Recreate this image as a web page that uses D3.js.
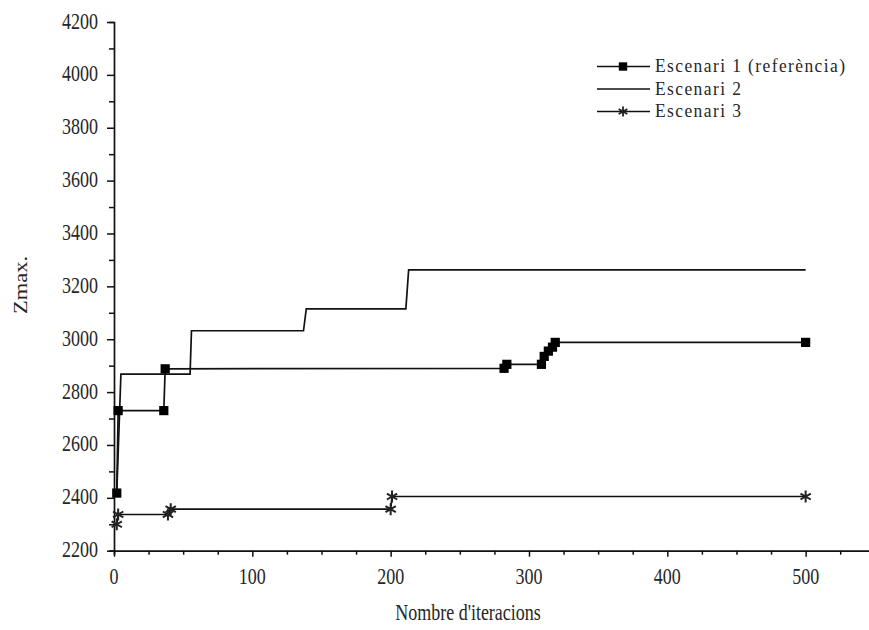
<!DOCTYPE html>
<html>
<head>
<meta charset="utf-8">
<script src="https://cdn.jsdelivr.net/npm/d3@7"></script>
<style>
  html, body { margin: 0; padding: 0; background: #fff; }
  svg { display: block; }
  text { font-family: "Liberation Serif", "Times New Roman", serif; fill: #262626; }
</style>
</head>
<body>
<svg id="chart" width="869" height="630"></svg>
<script>
// Convergence of Zmax over the iterations for three scenarios
const xTickValues = [0, 100, 200, 300, 400, 500];
const yTickValues = [2200, 2400, 2600, 2800, 3000, 3200, 3400, 3600, 3800, 4000, 4200];

const seriesNames = ["Escenari 1 (referència)", "Escenari 2", "Escenari 3"];

const esc1Iter = [2, 3, 36, 37, 282, 284, 309, 311, 314, 317, 319, 500];
const esc1Z    = [2418, 2730, 2730, 2888, 2890, 2905, 2905, 2935, 2955, 2970, 2988, 2988];

const esc2Iter = [2, 5, 55, 56, 137, 139, 211, 213, 500];
const esc2Z    = [2418, 2868, 2868, 3032, 3032, 3115, 3115, 3262, 3262];

const esc3Iter = [2, 3, 39, 41, 200, 201, 500];
const esc3Z    = [2300, 2337, 2337, 2357, 2357, 2405, 2405];

const svg = d3.select("#chart");
const x = d3.scaleLinear().domain([0, 550]).range([114, 874.8]);
const y = d3.scaleLinear().domain([2200, 4200]).range([550.7, 22]);

const STRETCH = 1.25; // text is drawn slightly tall

// Axes
const xAxis = d3.axisBottom(x).tickValues(d3.range(0, 551, 25)).tickSize(4).tickFormat("");
const yAxis = d3.axisLeft(y).tickValues(d3.range(2200, 4201, 100)).tickSize(5).tickFormat("");

const gx = svg.append("g").attr("transform", `translate(0,${y(2200)})`).call(xAxis);
const gy = svg.append("g").attr("transform", `translate(${x(0)},0)`).call(yAxis);
[gx, gy].forEach(g => {
  g.select(".domain").attr("stroke", "#111").attr("stroke-width", 1.7);
  g.selectAll(".tick line").attr("stroke", "#111").attr("stroke-width", 1.5);
});
gx.selectAll(".tick").filter(d => d % 100 === 0).select("line").attr("y2", 6);
gy.selectAll(".tick").filter(d => d % 200 === 0).select("line").attr("x2", -7);

// Tick labels
svg.append("g").selectAll("text").data(xTickValues).join("text")
  .attr("transform", d => `translate(${x(d)},584) scale(1,${STRETCH})`)
  .attr("text-anchor", "middle")
  .attr("font-size", 18)
  .text(d => d);

svg.append("g").selectAll("text").data(yTickValues).join("text")
  .attr("transform", d => `translate(98,${y(d) + 6.5}) scale(1,${STRETCH})`)
  .attr("text-anchor", "end")
  .attr("font-size", 18)
  .text(d => d);

// Axis titles
svg.append("text")
  .attr("transform", `translate(468,620) scale(1,${STRETCH})`)
  .attr("text-anchor", "middle")
  .attr("font-size", 18)
  .text("Nombre d'iteracions");

svg.append("text")
  .attr("transform", `translate(27,285) scale(1,${STRETCH}) rotate(-90)`)
  .attr("text-anchor", "middle")
  .attr("font-size", 18)
  .text("Zmax.");

// Series
const line = d3.line().x(d => x(d[0])).y(d => y(d[1]));
const zip = (a, b) => a.map((v, i) => [v, b[i]]);
const s1 = zip(esc1Iter, esc1Z);
const s2 = zip(esc2Iter, esc2Z);
const s3 = zip(esc3Iter, esc3Z);

[s2, s3, s1].forEach(s => {
  svg.append("path").datum(s).attr("d", line)
    .attr("fill", "none").attr("stroke", "#111").attr("stroke-width", 1.7);
});

const square = d3.symbol(d3.symbolSquare, 85);
const star = d3.symbol(d3.symbolAsterisk, 100);

svg.append("g").selectAll("path").data(s1).join("path")
  .attr("d", square)
  .attr("transform", d => `translate(${x(d[0])},${y(d[1])})`)
  .attr("fill", "#000");

svg.append("g").selectAll("path").data(s3).join("path")
  .attr("d", star)
  .attr("transform", d => `translate(${x(d[0])},${y(d[1])})`)
  .attr("fill", "none").attr("stroke", "#222").attr("stroke-width", 2);

// Legend
const legend = svg.append("g");
const rows = [
  { name: seriesNames[0], marker: "square", y: 66.5 },
  { name: seriesNames[1], marker: null, y: 89 },
  { name: seriesNames[2], marker: "star", y: 111.5 }
];
rows.forEach(r => {
  legend.append("line").attr("x1", 597).attr("x2", 650).attr("y1", r.y).attr("y2", r.y)
    .attr("stroke", "#111").attr("stroke-width", 1.7);
  if (r.marker === "square") {
    legend.append("path").attr("d", d3.symbol(d3.symbolSquare, 70)())
      .attr("transform", `translate(623,${r.y})`).attr("fill", "#000");
  } else if (r.marker === "star") {
    legend.append("path").attr("d", d3.symbol(d3.symbolAsterisk, 70)())
      .attr("transform", `translate(623,${r.y})`)
      .attr("fill", "none").attr("stroke", "#222").attr("stroke-width", 1.8);
  }
  legend.append("text")
    .attr("transform", `translate(655,${r.y + 5.5}) scale(1,1.12)`)
    .attr("font-size", 17.5)
    .attr("letter-spacing", 1.4)
    .text(r.name);
});
</script>
</body>
</html>
